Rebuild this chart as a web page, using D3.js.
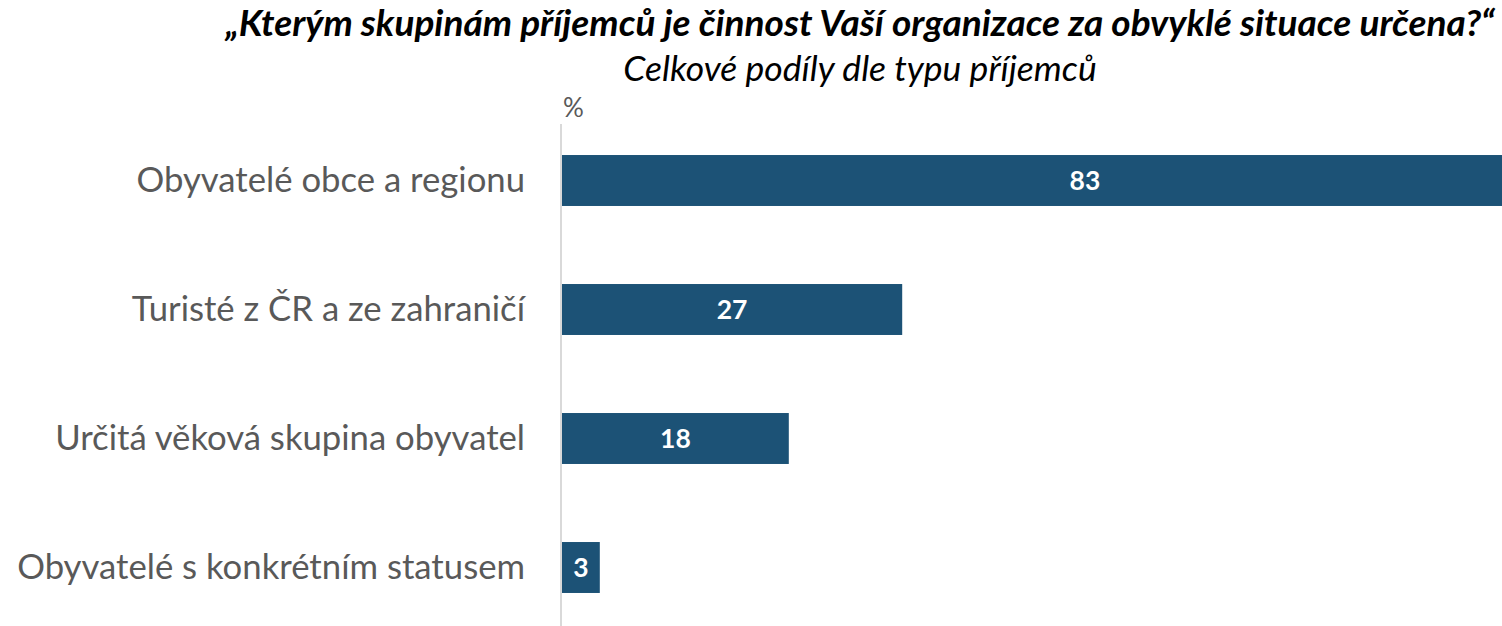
<!DOCTYPE html>
<html>
  <head>
    <meta charset="utf-8" />
    <style>
      body {
        margin: 0;
        background: #fff;
      }
      svg {
        display: block;
        font-family: Lato, "Open Sans", sans-serif;
      }
      .title {
        font-size: 37px;
        font-weight: 700;
        font-style: italic;
        fill: #000;
      }
      .subtitle {
        font-size: 35.5px;
        font-style: italic;
        fill: #000;
      }
      .y .tick text {
        font-family: Lato, "Open Sans", sans-serif;
        font-size: 34.7px;
        fill: #595959;
      }
      .y .tick line {
        display: none;
      }
      .y .domain {
        stroke: #d9d9d9;
        stroke-width: 2px;
      }
      .value {
        font-size: 26.5px;
        font-weight: 700;
        fill: #fff;
      }
      .unit {
        font-size: 26px;
        fill: #595959;
      }
    </style>
  </head>
  <body>
    <svg width="1502" height="626"></svg>

    <script src="https://d3js.org/d3.v7.min.js"></script>
    <script>
      // data
      let categories = [
        "Obyvatelé obce a regionu",
        "Turisté z ČR a ze zahraničí",
        "Určitá věková skupina obyvatel",
        "Obyvatelé s konkrétním statusem",
      ];
      let values = [83, 27, 18, 3];

      let width = 1502;
      let height = 626;
      let axisX = 562;

      let svg = d3.select("svg");

      let data = categories.map((c, i) => ({ name: c, value: values[i] }));

      // bars run past the right edge, like the original
      let x = d3.scaleLinear().domain([0, 100]).range([axisX, axisX + 1260]);

      let y = d3
        .scaleBand()
        .domain(categories)
        .range([116, 632])
        .paddingInner(0.605)
        .paddingOuter(0.3025);

      svg
        .append("text")
        .attr("class", "title")
        .attr("x", 860)
        .attr("y", 36)
        .attr("text-anchor", "middle")
        .text("„Kterým skupinám příjemců je činnost Vaší organizace za obvyklé situace určena?“");

      svg
        .append("text")
        .attr("class", "subtitle")
        .attr("x", 860)
        .attr("y", 81)
        .attr("text-anchor", "middle")
        .text("Celkové podíly dle typu příjemců");

      let graph = svg.append("g").attr("class", "graph");

      graph
        .selectAll(".bar")
        .data(data)
        .join("rect")
        .attr("class", "bar")
        .attr("x", x(0))
        .attr("y", (d) => y(d.name))
        .attr("width", (d) => x(d.value) - x(0))
        .attr("height", y.bandwidth())
        .attr("fill", "#1c5276");

      graph
        .selectAll(".value")
        .data(data)
        .join("text")
        .attr("class", "value")
        .attr("x", (d) => (x(0) + x(d.value)) / 2)
        .attr("y", (d) => y(d.name) + y.bandwidth() / 2)
        .attr("dy", "0.36em")
        .attr("text-anchor", "middle")
        .text((d) => d.value);

      let yAxis = svg
        .append("g")
        .attr("class", "y axis")
        .attr("transform", `translate(${axisX - 1}, 0)`)
        .call(d3.axisLeft(y).tickSize(0).tickPadding(36));

      yAxis.select(".domain").attr("d", `M0,124V${height}`);

      svg
        .append("text")
        .attr("class", "unit")
        .attr("x", axisX + 1)
        .attr("y", 117)
        .text("%");
    </script>
  </body>
</html>
